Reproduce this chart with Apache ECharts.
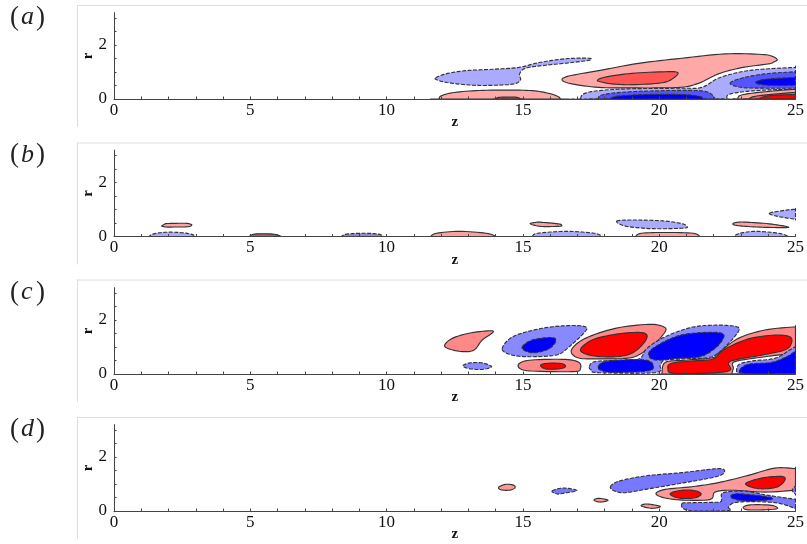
<!DOCTYPE html>
<html><head><meta charset="utf-8">
<style>html,body{margin:0;padding:0;background:#fff}#c{width:807px;height:544px}canvas{filter:blur(0.45px)}</style>
<script src="https://cdn.jsdelivr.net/npm/echarts@6/dist/echarts.min.js"></script>
</head><body><div id="c"></div>
<script>
const xLabels=[0,5,10,15,20,25];
const yLabels=[0,2];
const xTicks=[0,1,2,3,4,5,6,7,8,9,10,11,12,13,14,15,16,17,18,19,20,21,22,23,24,25];
const yTicks=[0,0.5,1,1.5,2,2.5,3];
const panelNames=['a','b','c','d'];
// each contour: [level, [[z,r],...]]
const contoursA=[
[-1,[[11.8,.78],[12.17,.93],[12.9,1.05],[13.88,1.1],[14.85,1.17],[15.59,1.35],[16.56,1.49],[17.41,1.51],[17.44,1.44],[16.8,1.35],[15.83,1.25],[15.1,1.14],[14.88,.93],[14.91,.7],[14.67,.56],[14,.51],[13.15,.51],[12.29,.6],[11.87,.7]]],
[1,[[11.93,0],[11.99,.11],[12.41,.23],[13.27,.31],[14.37,.33],[15.34,.31],[15.95,.21],[16.29,.09],[16.38,0]]],
[4,[[14.02,0],[14.12,.06],[14.73,.07],[14.91,0]]],
[1,[[16.44,.7],[16.68,.85],[17.78,1.05],[19.24,1.32],[20.83,1.51],[22.41,1.67],[23.76,1.65],[24.15,1.58],[24.33,1.46],[24.2,1.37],[24,1.3],[23.02,1.16],[22.17,.93],[21.44,.58],[20.71,.43],[19,.41],[17.78,.43],[16.8,.56]]],
[2,[[17.74,.7],[18.02,.81],[19,.95],[20.22,1.01],[20.68,.98],[20.52,.77],[20.1,.6],[19,.53],[18.27,.56],[17.84,.64]]],
[-1,[[17.11,0],[17.23,.19],[17.78,.31],[19,.38],[20.83,.4],[21.56,.43],[22.17,.77],[23.02,1.01],[23.88,1.11],[25,1.17],[25,.36],[23.88,.33],[23.02,.26],[22.54,.16],[22.48,0]]],
[-2,[[17.76,0],[17.9,.15],[18.76,.26],[20.22,.31],[21.44,.31],[21.87,.21],[22.05,0]]],
[-3,[[18.17,0],[18.51,.11],[19.73,.17],[20.95,.16],[21.5,.09],[21.62,0]]],
[-2,[[22.6,.58],[23.02,.77],[23.88,.93],[25,1.01],[25,.4],[23.88,.4],[23.02,.43]]],
[-3,[[23.54,.6],[23.88,.73],[25,.8],[25,.51],[24,.51]]],
[1,[[22.88,0],[23.02,.15],[23.88,.27],[25,.36],[25,0]]],
[2,[[23.27,0],[23.63,.12],[25,.25],[25,0]]],
[3,[[23.66,0],[24,.12],[25,.17],[25,0]]]
];
const contoursB=[
[-1,[[1.29,0],[1.4,.08],[1.7,.14],[2.11,.16],[2.6,.13],[2.88,.07],[2.97,0]]],
[1,[[1.75,.39],[1.85,.45],[1.95,.48],[2.61,.49],[2.8,.46],[2.85,.42],[2.69,.36],[1.95,.35],[1.85,.36]]],
[4,[[4.96,0],[5.16,.09],[5.82,.09],[6.15,0]]],
[-4,[[8.34,0],[8.54,.09],[9.2,.12],[9.7,.09],[9.89,0]]],
[1,[[11.61,0],[11.84,.12],[12.66,.19],[13.65,.12],[14.03,0]]],
[1,[[15.27,.48],[15.45,.52],[15.63,.53],[16.29,.47],[16.42,.42],[16.35,.38],[15.72,.37],[15.4,.42]]],
[-1,[[15.34,0],[15.55,.12],[16.62,.19],[17.61,.12],[17.91,0]]],
[-1,[[18.44,.56],[18.6,.6],[19.26,.61],[20.24,.57],[20.85,.47],[21,.38],[20.91,.31],[19.76,.29],[18.9,.36],[18.55,.46]]],
[1,[[19.13,0],[19.35,.12],[20.25,.15],[21.24,.12],[21.5,0]]],
[1,[[22.72,.49],[22.9,.53],[23.22,.53],[24.04,.47],[24.67,.37],[24.65,.33],[23.88,.34],[23.1,.38],[22.75,.43]]],
[-1,[[22.72,0],[22.97,.12],[23.55,.19],[24.37,.12],[24.78,0]]],
[-1,[[24.04,.86],[24.54,.96],[25,1.01],[25,.64],[24.37,.74]]]
];
const contoursC=[
[1,[[12.13,1.07],[12.41,1.32],[13.02,1.51],[13.76,1.6],[13.9,1.54],[13.51,1.26],[13.21,.89],[12.78,.83],[12.29,.93]]],
[-1,[[12.8,.31],[13.07,.41],[13.51,.41],[13.85,.27],[13.51,.17],[13.02,.2]]],
[-1,[[14.24,.93],[14.63,1.38],[15.59,1.67],[16.56,1.79],[17.29,1.75],[17.23,1.51],[16.56,.89],[16.2,.7],[15.34,.64],[14.61,.7]]],
[-3,[[14.98,1.01],[15.34,1.26],[16.07,1.35],[16.2,1.2],[15.95,.93],[15.46,.79],[15.1,.85]]],
[1,[[14.88,.4],[15.34,.52],[16.56,.54],[17.05,.43],[17.11,.21],[16.87,.09],[15.34,.11],[14.88,.21]]],
[3,[[15.65,.33],[15.95,.4],[16.44,.38],[16.56,.27],[16.32,.19],[15.83,.19]]],
[1,[[16.78,.89],[17.29,1.32],[18.39,1.69],[19.61,1.84],[20.16,1.75],[20.22,1.57],[19.85,1.14],[19.24,.7],[18.76,.58],[17.78,.56],[17.02,.6]]],
[3,[[17.11,.89],[17.54,1.26],[18.39,1.47],[19.24,1.54],[19.55,1.44],[19.43,1.14],[19,.77],[18.39,.64],[17.54,.68]]],
[-1,[[17.44,.27],[17.66,.46],[18.76,.52],[19.3,.58],[19.55,.95],[20.22,1.38],[21.2,1.73],[22.17,1.81],[22.84,1.75],[22.9,1.57],[22.48,1.07],[21.93,.64],[20.95,.56],[20.22,.52],[20.04,.33],[19.85,.05],[17.78,.05],[17.51,.15]]],
[-3,[[17.76,.27],[18.02,.46],[19,.53],[19.61,.49],[19.79,.27],[19.55,.11],[18.27,.06],[17.84,.15]]],
[-3,[[19.61,.73],[19.85,1.01],[20.71,1.42],[21.68,1.54],[22.29,1.51],[22.35,1.32],[22.05,.95],[21.5,.64],[20.71,.58],[19.85,.52]]],
[1,[[20.1,0],[20.22,.43],[20.95,.51],[21.93,.6],[22.17,.77],[22.9,1.32],[23.88,1.63],[25,1.75],[25,1.01],[24.73,.77],[23.88,.64],[22.78,.46],[22.72,.21],[22.66,0]]],
[3,[[20.32,.21],[20.46,.4],[21.2,.48],[21.99,.56],[22.35,.89],[23.27,1.3],[24.24,1.44],[24.79,1.38],[24.85,1.14],[24.61,.89],[23.76,.7],[22.78,.52],[22.54,.4],[22.48,.09],[20.59,.02]]],
[-1,[[22.84,0],[22.9,.33],[23.39,.48],[24.24,.58],[24.79,.89],[25,1.01],[25,0]]],
[-3,[[22.96,.15],[23.27,.36],[24.12,.43],[24.67,.64],[25,.85],[25,.02],[23.15,.02]]]
];
const contoursD=[
[1,[[14.12,.89],[14.39,.99],[14.67,.95],[14.7,.85],[14.49,.77],[14.18,.79]]],
[-1,[[16.07,.74],[16.44,.85],[16.87,.8],[16.96,.74],[16.56,.67],[16.26,.63]]],
[1,[[17.61,.4],[17.78,.47],[18.12,.4],[17.84,.33]]],
[1,[[19.34,.19],[19.55,.26],[20.04,.17],[19.73,.1]]],
[-1,[[18.21,.89],[18.51,1.1],[19.49,1.3],[20.83,1.42],[22.17,1.57],[22.39,1.44],[22.05,1.26],[20.71,1.01],[19.49,.8],[18.76,.68],[18.39,.73]]],
[1,[[19.88,.64],[20.22,.8],[21.2,.9],[22.17,1.05],[23.27,1.32],[24.24,1.59],[25,1.57],[25,.77],[23.88,.7],[22.66,.77],[22.05,.7],[21.87,.43],[20.95,.4],[20.22,.48]]],
[3,[[20.4,.64],[20.83,.77],[21.32,.75],[21.54,.62],[21.27,.48],[20.71,.48]]],
[3,[[23.17,1.01],[23.76,1.22],[24.49,1.28],[24.61,1.14],[24.3,.88],[23.63,.83]]],
[-1,[[20.83,.27],[21.2,.31],[22.17,.33],[22.29,.43],[22.35,.68],[23.15,.73],[24,.58],[25,.43],[25,.09],[24.24,.31],[22.9,.33],[22.54,.15],[22.54,.02],[21.07,.02]]],
[-3,[[22.62,.54],[22.9,.64],[24,.52],[24.1,.43],[23.39,.37],[22.84,.42]]],
[1,[[23.09,.15],[23.39,.23],[24.12,.21],[24.33,.09],[23.76,.04],[23.21,.05]]],
[-1,[[25,.93],[24.88,.77],[25,.62]]]
];
const panels=[contoursA,contoursB,contoursC,contoursD];

const baseY=[99,236.5,374,511];
const frameTop=[5,142.5,279.5,417];
const palettes=[
 {'1':'#FFA8A8','2':'#FF5555','3':'#FF0000','4':'#A84848','-1':'#AAAAFF','-2':'#5555FF','-3':'#0000FF','-4':'#9088C8'},
 {'1':'#FFA0A0','2':'#FF5555','3':'#FF0000','4':'#A86060','-1':'#AAAAFF','-2':'#5555FF','-3':'#0000FF','-4':'#9088C8'},
 {'1':'#FF8888','2':'#FF5555','3':'#FF0000','4':'#A84848','-1':'#8888FF','-2':'#5555FF','-3':'#0000FF','-4':'#9088C8'},
 {'1':'#FF9999','2':'#FF5555','3':'#FF0000','4':'#A84848','-1':'#7777FF','-2':'#5555FF','-3':'#0000FF','-4':'#9088C8'}
];
const font='"Liberation Serif",serif';
// closed Catmull-Rom outline through the pixel positions of a contour's points
function roundOutline(pts){
 const n=pts.length,out=[],steps=8;
 for(let i=0;i<n;i++){
  const a=pts[(i+n-1)%n],b=pts[i],c=pts[(i+1)%n],d=pts[(i+2)%n];
  for(let s=0;s<steps;s++){
   const t=s/steps,t2=t*t,t3=t2*t;
   out.push([0,1].map(k=>.5*(2*b[k]+(c[k]-a[k])*t+(2*a[k]-5*b[k]+4*c[k]-d[k])*t2+(3*b[k]-a[k]-3*c[k]+d[k])*t3)));
  }
 }
 return out;
}
const grid=[],xAxis=[],yAxis=[],series=[],graphic=[];
panels.forEach((contours,i)=>{
 grid.push({left:114,width:684,top:baseY[i]-86.4,height:86.4});
 xAxis.push({type:'value',gridIndex:i,min:0,max:25,z:5,name:'z',nameLocation:'middle',nameGap:16,nameMoveOverlap:false,
  nameTextStyle:{fontFamily:font,fontWeight:'bold',fontSize:15,color:'#111'},
  axisLine:{lineStyle:{color:'#444',width:1.2}},
  axisTick:{inside:true,length:2.5,customValues:xTicks,lineStyle:{color:'#444'}},
  axisLabel:{customValues:xLabels,fontFamily:font,fontSize:17,color:'#111',margin:3,showMinLabel:true,showMaxLabel:true,hideOverlap:false},
  splitLine:{show:false}});
 yAxis.push({type:'value',gridIndex:i,min:0,max:3.2,z:5,name:'r',nameLocation:'middle',nameGap:18,nameRotate:90,nameMoveOverlap:false,
  nameTextStyle:{fontFamily:font,fontWeight:'bold',fontSize:15,color:'#111'},
  axisLine:{lineStyle:{color:'#444',width:1}},
  axisTick:{inside:true,length:2.5,customValues:yTicks,lineStyle:{color:'#444'}},
  axisLabel:{customValues:yLabels,fontFamily:font,fontSize:17,color:'#111',margin:7,padding:[7,0,0,0],showMinLabel:true,hideOverlap:false},
  splitLine:{show:false}});
 const pal=palettes[i];
 series.push({type:'custom',xAxisIndex:i,yAxisIndex:i,clip:true,silent:true,animation:false,
  data:contours.map((c,k)=>[k]),
  renderItem:(params,api)=>{
   const c=contours[params.dataIndex];
   const pts=c[1].flatMap(p=>(p[1]===0||p[0]===25)?[p,p]:[p]);
   return {type:'polygon',
    shape:{points:roundOutline(pts.map(p=>api.coord(p)))},
    style:{fill:pal[c[0]],stroke:'#333',lineWidth:1.15,lineDash:c[0]<0?[4,1.5]:null}};
  }});
 graphic.push({type:'line',silent:true,shape:{x1:77,y1:frameTop[i]+.5,x2:807,y2:frameTop[i]+.5},style:{stroke:'#dedede',lineWidth:1}});
 graphic.push({type:'line',silent:true,shape:{x1:77.5,y1:frameTop[i],x2:77.5,y2:baseY[i]+28},style:{stroke:'#dedede',lineWidth:1}});
 graphic.push({type:'text',silent:true,x:10,y:baseY[i]-95,style:{
  text:'{p|(}{n|'+panelNames[i]+'}{q|)}',
  rich:{p:{fontFamily:font,fontSize:27,fill:'#222',width:11},q:{fontFamily:font,fontSize:27,fill:'#222',width:9},n:{fontFamily:font,fontStyle:'italic',fontSize:26,fill:'#222',width:15}}}});
});
const chart=echarts.init(document.getElementById('c'),null,{renderer:'canvas'});
chart.setOption({animation:false,backgroundColor:'#fff',grid,xAxis,yAxis,series,graphic});
</script></body></html>
